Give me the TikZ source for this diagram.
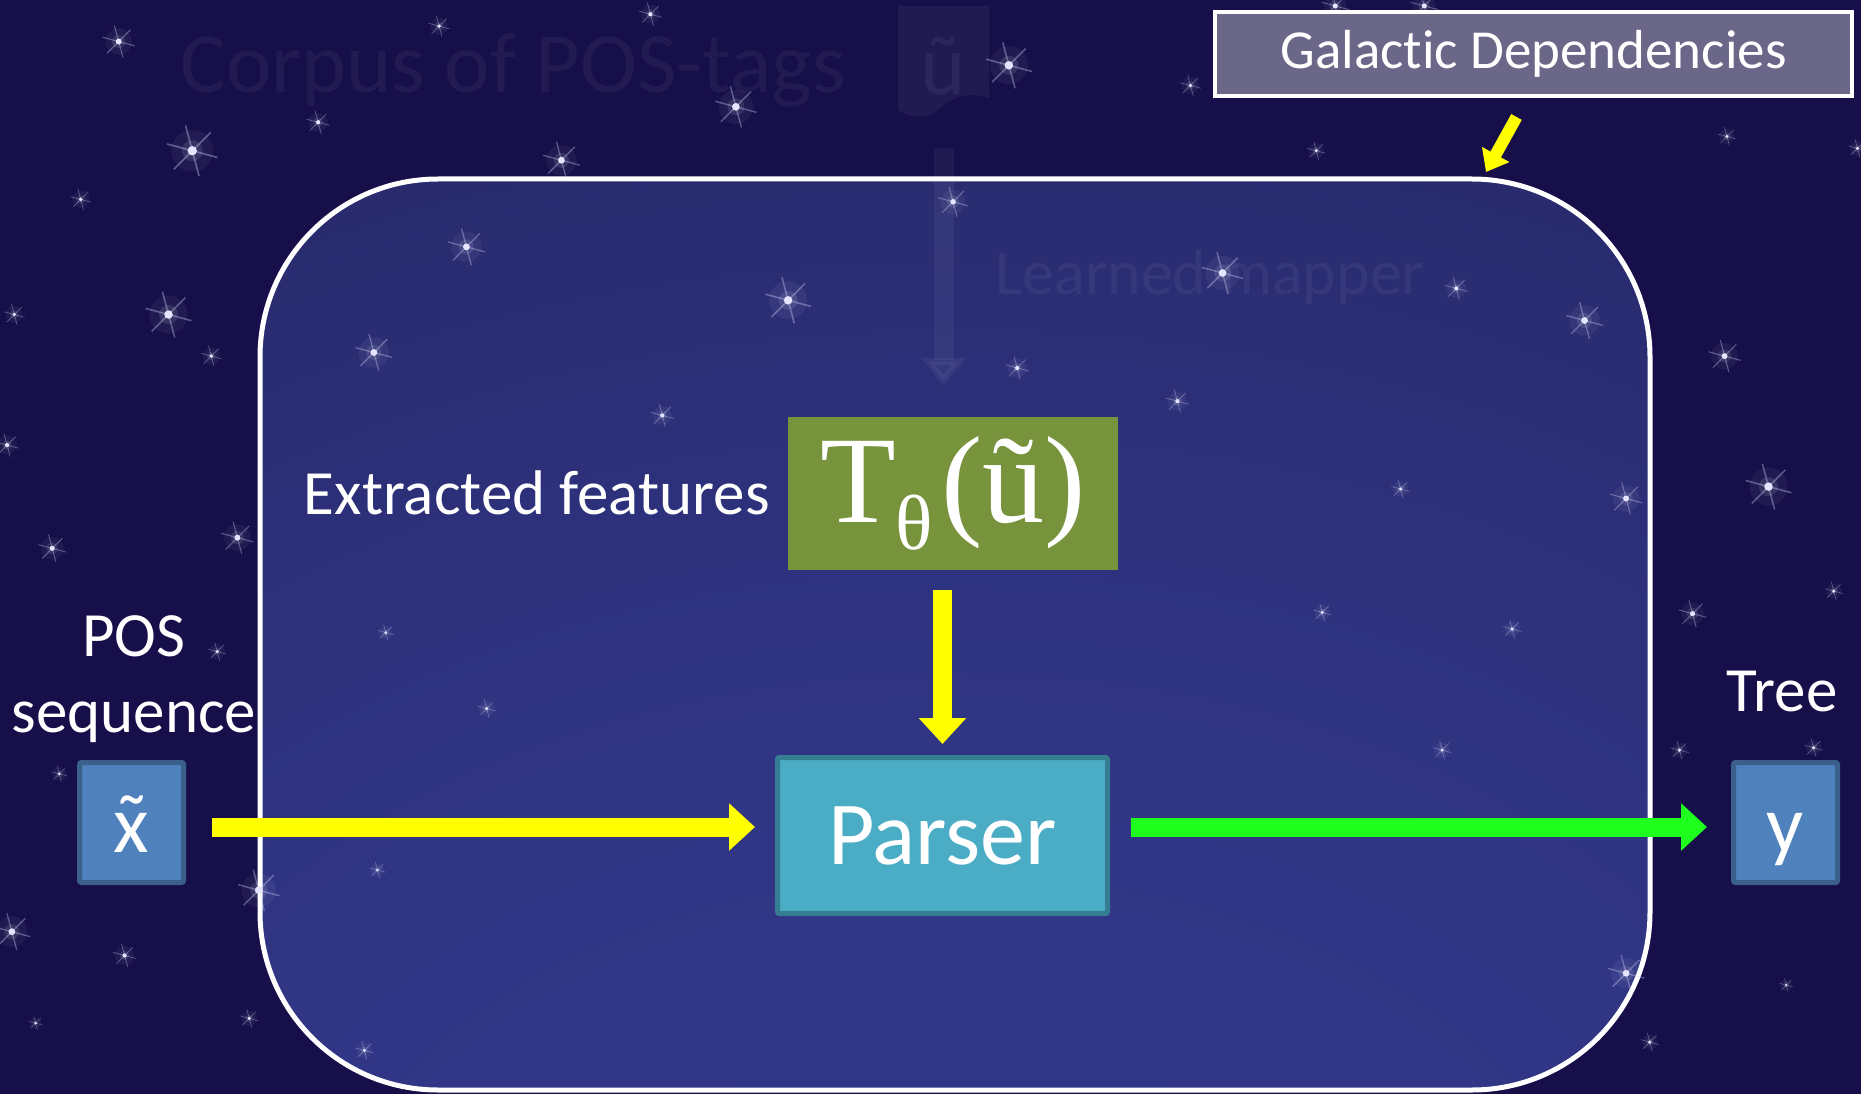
\documentclass[tikz,border=0pt]{standalone}
\usepackage{fontspec}
\setmainfont{Carlito}[Ligatures=NoCommon]
\newfontfamily\formulafont{Liberation Serif}
\usetikzlibrary{arrows.meta,calc}

\definecolor{sky}{RGB}{23,15,73}
\definecolor{frametop}{RGB}{35,35,92}
\definecolor{frameglowc}{RGB}{51,57,141}
\definecolor{tagfill}{RGB}{107,103,137}
\definecolor{featgreen}{RGB}{119,147,60}
\definecolor{parserfill}{RGB}{75,172,198}
\definecolor{parserline}{RGB}{53,125,145}
\definecolor{seqfill}{RGB}{79,129,189}
\definecolor{seqline}{RGB}{58,95,139}
\definecolor{flowyellow}{RGB}{255,255,0}
\definecolor{flowgreen}{RGB}{30,255,30}

\pgfdeclareradialshading{frameglow}{\pgfpoint{0bp}{-48bp}}{%
  color(0bp)=(frameglowc); color(30bp)=(frameglowc!80!frametop);
  color(70bp)=(frametop); color(100bp)=(frametop)}

% a small sparkling star: x, y, radius
\newcommand{\skystar}[3]{%
  \begin{scope}[shift={(#1,#2)}]
    \fill[white,opacity=0.05] (0,0) circle ({0.8*#3});
    \fill[white,opacity=0.10] (0,0) circle ({0.4*#3});
    \foreach \a in {0,60,120}
      \draw[white!85!blue,opacity=0.35,line width={#3*0.08pt}] (\a+15:#3) -- (\a+195:#3);
    \fill[white!90!blue] (0,0) circle ({0.18*#3});
  \end{scope}}

% lowercase x carrying a tilde
\newcommand{\xtilde}{\ooalign{x\cr\hidewidth\raisebox{0.02em}{\char"02DC}\hidewidth}}

\tikzset{
  lbl/.style={text=white,inner sep=0pt,font=\fontsize{63}{76}\selectfont},
  tagbox/.style={draw=white,line width=4pt,fill=tagfill,text=white,
    minimum width=637pt,minimum height=84pt,inner sep=0pt,
    font=\fontsize{55}{60}\selectfont},
  outerbox/.style={draw=white,line width=5pt,shade,shading=frameglow,
    rounded corners=178pt,minimum width=1390pt,minimum height=911pt,inner sep=0pt},
  featbox/.style={fill=featgreen,text=white,minimum width=330pt,
    minimum height=153pt,inner sep=0pt},
  parserbox/.style={fill=parserfill,draw=parserline,line width=5pt,
    rounded corners=2pt,text=white,minimum width=330pt,minimum height=156pt,
    inner sep=0pt,font=\fontsize{90}{94}\selectfont},
  seqbox/.style={fill=seqfill,draw=seqline,line width=5pt,rounded corners=2pt,
    text=white,minimum width=104pt,minimum height=120pt,inner sep=0pt,
    text height=70pt,text depth=11pt,font=\fontsize{82}{90}\selectfont},
  yflow/.style={draw=flowyellow,line width=19pt,
    -{Triangle[width=46pt,length=26pt]}},
  gflow/.style={draw=flowgreen,line width=19pt,
    -{Triangle[width=46pt,length=26pt]}},
  ypointer/.style={draw=flowyellow,line width=12pt,
    -{Triangle[width=30pt,length=20pt]}},
  ghost/.style={text=white,text opacity=0.05,inner sep=0pt},
  ghostflow/.style={draw=white,opacity=0.05,line width=20pt,
    -{Triangle[width=44pt,length=28pt]}},
}

\begin{document}
\begin{tikzpicture}[x=1pt,y=-1pt]
  \useasboundingbox (0,0) rectangle (1861,1094);
  \fill[sky] (0,0) rectangle (1861,1094);

  % the rounded frame around the parsing pipeline
  \node[outerbox] (frame) at (955,634.5) {};

  % starfield
  \begin{scope}[scale=1.1869]
    \foreach \sx/\sy/\sr in {
      100/35/14, 370/22/9, 548/12/10, 850/55/20, 620/90/18, 268/103/10,
      162/127/22, 473/135/16, 68/168/9, 803/170/13, 393/208/16, 664/253/20,
      142/265/20, 12/265/9, 178/300/9, 315/297/16, 857/310/10, 1030/230/18,
      1227/243/10, 1335/270/16, 1453/300/14, 992/338/10, 558/350/10,
      1109/127/8, 1003/72/9, 1125/5/12, 1200/5/12, 1455/115/8, 1525/50/10,
      1565/125/8, 1370/420/14, 1180/412/8, 1490/410/20, 1426/517/12,
      1114/516/8, 1274/530/8, 1545/498/8, 200/453/14, 44/462/12, 183/549/8,
      325/533/7, 410/597/8, 50/652/7, 1215/632/8, 1415/632/8, 1528/630/8,
      218/750/18, 10/785/16, 105/805/10, 318/733/7, 1370/820/16,
      1505/830/6, 210/858/8, 30/862/6, 1390/878/8, 307/885/8, 6/375/10}
      \skystar{\sx}{\sy}{\sr};
  \end{scope}

  % faded earlier stage: corpus and learned mapper
  \node[ghost,font=\fontsize{86}{90}\selectfont] (corpus) at (513,70) {Corpus of POS-tags};
  \fill[white,opacity=0.05] (898,6) -- (989,6) -- (989,98)
    .. controls (962,90) and (950,100) .. (935,112)
    .. controls (925,119) and (910,118) .. (898,110) -- cycle;
  \node[ghost,font=\fontsize{86}{90}\selectfont] (doc) at (943.5,66) {ũ};
  \coordinate (docfoot) at (943.5,118);
  \node[ghost,font=\fontsize{64}{64}\selectfont] (mapper) at (1210,277) {Learned mapper};

  % pipeline boxes
  \node[tagbox] (galactic) at (1533.5,54) {Galactic Dependencies};
  \node[featbox] (feat) at (953,493.5) {\formulafont\fontsize{124}{130}\selectfont
      T\raisebox{-27pt}{\fontsize{78}{80}\selectfont θ}\hspace{8pt}(ũ)};
  \node[lbl,anchor=east] (featlbl) at (770,493) {Extracted features};
  \node[parserbox] (parser) at (942.5,835.5) {Parser};
  \node[seqbox] (xin) at (131.5,822.5) {\xtilde};
  \node[seqbox] (yout) at (1785.5,822.5) {y};
  \node[lbl,align=center] (poslbl) at (134,679) {POS\\sequence};
  \node[lbl] (treelbl) at (1782,691) {Tree};

  % connectors
  \draw[ghostflow,shorten <=30pt,shorten >=31pt] (docfoot) -- (docfoot |- feat.north);
  \coordinate (frametip) at (1486,172);
  \draw[ypointer] ([xshift=-17pt,yshift=-19pt]galactic.south) -- (frametip);
  \draw[yflow,shorten <=20pt,shorten >=11pt] (feat.south -| parser.north) -- (parser.north);
  \draw[yflow,shorten <=26pt,shorten >=20pt] ([yshift=-4.5pt]xin.east) -- ([yshift=8.5pt]parser.west);
  \draw[gflow,shorten <=21pt,shorten >=24pt] ([yshift=8.5pt]parser.east) -- ([yshift=-4.5pt]yout.west);
\end{tikzpicture}
\end{document}
